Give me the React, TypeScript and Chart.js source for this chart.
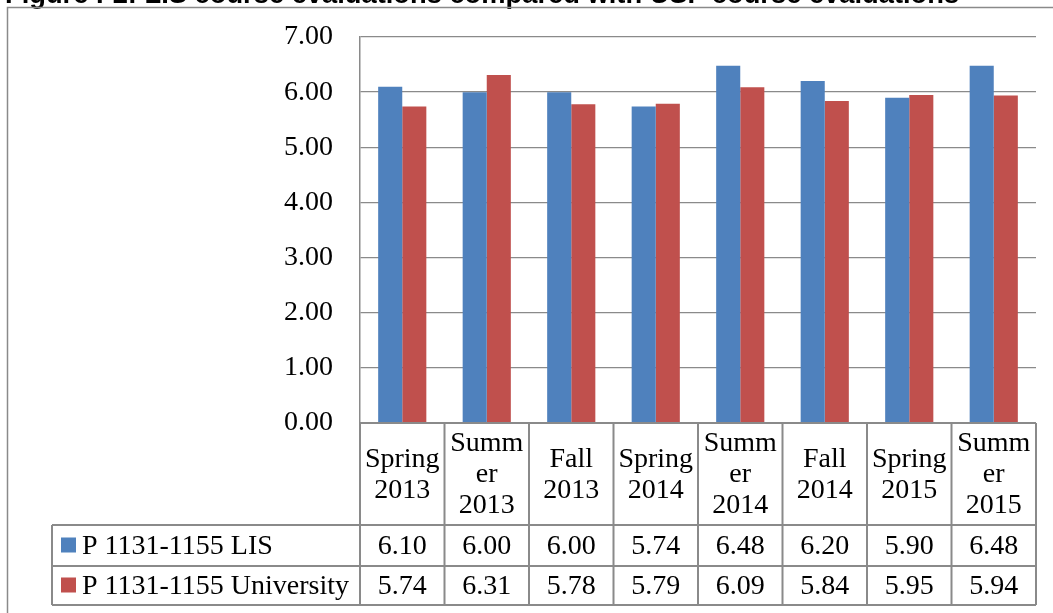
import React, { useEffect, useRef } from "react";
import { Chart, registerables } from "chart.js";

Chart.register(...registerables);

const titleText = "Figure I-2: LIS course evaluations compared with USF course evaluations";
const categoryLines: string[][] = [
  ["Spring", "2013"],
  ["Summ", "er", "2013"],
  ["Fall", "2013"],
  ["Spring", "2014"],
  ["Summ", "er", "2014"],
  ["Fall", "2014"],
  ["Spring", "2015"],
  ["Summ", "er", "2015"],
];
const categories = categoryLines.map((l) => l.join(" "));
const seriesNames = ["P 1131-1155 LIS", "P 1131-1155 University"];
const lisValues = [6.1, 6.0, 6.0, 5.74, 6.48, 6.2, 5.9, 6.48];
const universityValues = [5.74, 6.31, 5.78, 5.79, 6.09, 5.84, 5.95, 5.94];
const seriesColors = ["#4F81BD", "#C0504D"];
const yMin = 0;
const yMax = 7;
const yStep = 1;

const FONT = "'Liberation Serif', serif";
const FONT_SIZE = 28;
const LINE_COLOR = "#8a8a8a";

const tablePlugin = {
  id: "dataTable",
  afterDraw(chart: any) {
    const ctx = chart.ctx as CanvasRenderingContext2D;
    const area = chart.chartArea;
    const xs = chart.scales.x;
    const n = categories.length;
    const colW = (area.right - area.left) / n;
    const top = area.bottom;
    const headerBottom = 525;
    const row1Bottom = 566;
    const row2Bottom = 605;
    const legendLeft = 52;

    ctx.save();
    // title (cut at top)
    ctx.fillStyle = "#000";
    ctx.font = "bold 27.3px 'Liberation Sans', Arial, sans-serif";
    ctx.textAlign = "left";
    ctx.textBaseline = "alphabetic";
    ctx.fillText(titleText, 5, 3);

    // outer frame
    ctx.strokeStyle = LINE_COLOR;
    ctx.lineWidth = 1.5;
    ctx.beginPath();
    ctx.moveTo(7.5, chart.height);
    ctx.lineTo(7.5, 7.5);
    ctx.lineTo(chart.width, 7.5);
    ctx.stroke();

    // table lines
    ctx.lineWidth = 2;
    ctx.beginPath();
    ctx.moveTo(area.left, top);
    ctx.lineTo(area.right, top);
    [headerBottom, row1Bottom, row2Bottom].forEach((y) => {
      ctx.moveTo(legendLeft, y);
      ctx.lineTo(area.right, y);
    });
    for (let i = 0; i <= n; i++) {
      const x = i < n ? xs.getPixelForValue(i) - colW / 2 : xs.getPixelForValue(n - 1) + colW / 2;
      ctx.moveTo(x, top);
      ctx.lineTo(x, row2Bottom);
    }
    ctx.moveTo(legendLeft, headerBottom);
    ctx.lineTo(legendLeft, row2Bottom);
    ctx.stroke();

    // header labels
    ctx.fillStyle = "#000";
    ctx.font = `${FONT_SIZE}px ${FONT}`;
    ctx.textAlign = "center";
    ctx.textBaseline = "middle";
    const lineH = 31;
    const hc = (top + headerBottom) / 2;
    categoryLines.forEach((lines, i) => {
      const cx = xs.getPixelForValue(i);
      const y0 = hc - ((lines.length - 1) * lineH) / 2;
      lines.forEach((t, j) => ctx.fillText(t, cx, y0 + j * lineH + 1));
    });

    // values rows
    const rows = [lisValues, universityValues];
    const rowCenters = [(headerBottom + row1Bottom) / 2, (row1Bottom + row2Bottom) / 2];
    rows.forEach((vals, r) => {
      vals.forEach((v, i) => {
        ctx.fillText(v.toFixed(2), xs.getPixelForValue(i), rowCenters[r] + 1);
      });
    });

    // legend cells
    ctx.textAlign = "left";
    seriesNames.forEach((name, r) => {
      const cy = rowCenters[r];
      ctx.fillStyle = seriesColors[r];
      ctx.fillRect(61, cy - 8, 15, 15);
      ctx.fillStyle = "#000";
      ctx.fillText(name, 82, cy + 1);
    });
    ctx.restore();
  },
};

export default function App() {
  const ref = useRef<HTMLCanvasElement | null>(null);
  useEffect(() => {
    if (!ref.current) return;
    const chart = new Chart(ref.current, {
      type: "bar",
      data: {
        labels: categories,
        datasets: [
          {
            label: seriesNames[0],
            data: lisValues,
            backgroundColor: seriesColors[0],
            barPercentage: 1,
            categoryPercentage: 0.57,
          },
          {
            label: seriesNames[1],
            data: universityValues,
            backgroundColor: seriesColors[1],
            barPercentage: 1,
            categoryPercentage: 0.57,
          },
        ],
      },
      options: {
        animation: false,
        responsive: true,
        maintainAspectRatio: false,
        layout: { padding: { top: 37, right: 17, bottom: 0, left: 0 } },
        plugins: { legend: { display: false }, tooltip: { enabled: false }, title: { display: false } },
        scales: {
          x: {
            grid: { display: false },
            border: { display: false },
            ticks: { display: false },
            afterFit: (s: any) => {
              s.height = 190;
            },
          },
          y: {
            min: yMin,
            max: yMax,
            ticks: {
              stepSize: yStep,
              padding: 27,
              color: "#000",
              font: { family: FONT, size: FONT_SIZE },
              callback: (v: any) => Number(v).toFixed(2),
            },
            grid: { color: LINE_COLOR, lineWidth: 1.3, drawTicks: false },
            border: { display: true, color: LINE_COLOR, width: 1.5 },
            afterFit: (s: any) => {
              s.width = 360;
              s.paddingTop = 0;
              s.paddingBottom = 0;
            },
          },
        },
      },
      plugins: [tablePlugin],
    });
    return () => chart.destroy();
  }, []);
  return (
    <div style={{ position: "absolute", left: 0, top: 0, width: 1053, height: 613, background: "#fff" }}>
      <canvas ref={ref} />
    </div>
  );
}
